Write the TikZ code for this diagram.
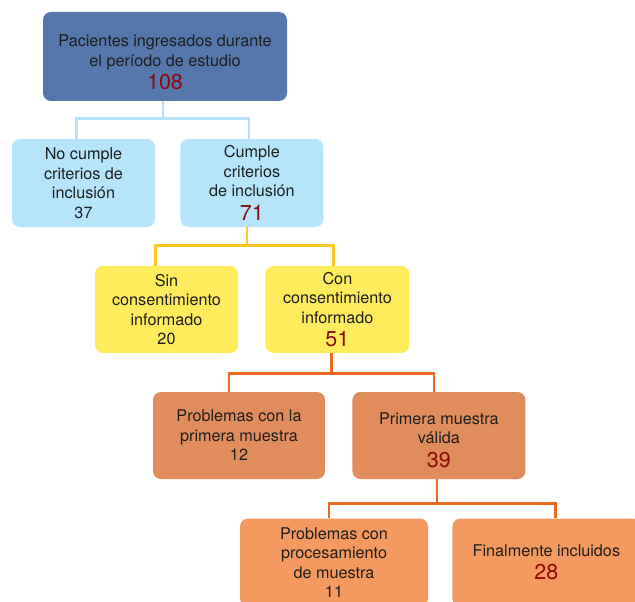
\documentclass[tikz,border=0pt]{standalone}
\usepackage{fontspec}
\setmainfont{TeX Gyre Heros}
\usetikzlibrary{positioning}

\definecolor{azulOsc}{HTML}{5677AC}
\definecolor{celeste}{HTML}{B6E5FA}
\definecolor{celesteLin}{HTML}{B3E2F6}
\definecolor{amarillo}{HTML}{FEEC5C}
\definecolor{amarilloLin}{HTML}{FFC826}
\definecolor{naranjaOsc}{HTML}{E08C5C}
\definecolor{naranjaCla}{HTML}{F49A60}
\definecolor{naranjaLin}{HTML}{EB6A22}
\definecolor{rojoNum}{HTML}{8C0A0A}
\definecolor{texto}{HTML}{1E1E1E}

\newcommand{\numero}[1]{{\fontsize{21.5}{27}\selectfont\color{rojoNum}#1}}

\begin{document}
\begin{tikzpicture}[x=1pt, y=-1pt]
  % definicion de estilos
  \tikzset{
    caja/.style={
           rectangle,
           rounded corners=8pt,
           text=texto,
           align=center,
           inner sep=2pt,
           font=\fontsize{16.2}{19.5}\selectfont},
    % colores de cada nivel
    cajaAzul/.style={caja, fill=azulOsc},
    cajaCeleste/.style={caja, fill=celeste, minimum width=143pt, minimum height=88pt},
    cajaAmarilla/.style={caja, fill=amarillo, minimum width=143pt, minimum height=87pt},
    cajaNaranja/.style={caja, fill=naranjaOsc, minimum height=87pt},
    cajaClara/.style={caja, fill=naranjaCla, minimum width=188pt, minimum height=88pt},
    % conectores
    linea/.style={line width=2.8pt}
  }
  \path[use as bounding box, clip] (0,0) rectangle (635,602);

  % Gráfico
  \node[cajaAzul, minimum width=244pt, minimum height=89pt] (pacientes) at (165,56.5)
       {\rule{0pt}{24pt}Pacientes ingresados durante\\el período de estudio\\[4pt]\numero{108}};
  \node[cajaCeleste] (nocumple) at (83.5,183) {No cumple\\criterios de\\inclusión\\37};
  \node[cajaCeleste, right=25pt of nocumple] (cumple) {Cumple\\criterios\\de inclusión\\[4pt]\numero{71}};
  \node[cajaAmarilla] (sin) at (166.5,309.5) {Sin\\consentimiento\\informado\\20};
  \node[cajaAmarilla, minimum width=144pt, right=27pt of sin] (con)
       {Con\\consentimiento\\informado\\[4pt]\numero{51}};
  \node[cajaNaranja, minimum width=172pt] (problemas) at (239,435.5)
       {Problemas con la\\primera muestra\\12};
  \node[cajaNaranja, minimum width=173pt, right=27pt of problemas] (primera)
       {\rule{0pt}{21pt}Primera muestra\\válida\\[4pt]\numero{39}};
  \node[cajaClara] (procesamiento) at (334,562.5)
       {Problemas con\\procesamiento\\de muestra\\11};
  \node[cajaClara, right=24pt of procesamiento] (finales)
       {Finalmente incluidos\\[4pt]\numero{28}};

  \draw[linea, celesteLin] ([xshift=-2pt]pacientes.south) -- ++(0,17) -| ([xshift=-7pt]nocumple.north);
  \draw[linea, celesteLin] ([xshift=-2pt]pacientes.south) -- ++(0,17) -| ([xshift=-3pt]cumple.north);
  \draw[linea, amarilloLin] ([xshift=-5pt]cumple.south) -- ++(0,18) -| ([xshift=-11pt]sin.north);
  \draw[linea, amarilloLin] ([xshift=-5pt]cumple.south) -- ++(0,18) -| ([xshift=-4pt]con.north);
  \draw[linea, naranjaLin] ([xshift=-6pt]con.south) -- ++(0,20) -| ([xshift=-10pt]problemas.north);
  \draw[linea, naranjaLin] ([xshift=-6pt]con.south) -- ++(0,20) -| ([xshift=-5pt]primera.north);
  \draw[linea, naranjaLin] ([xshift=-2pt]primera.south) -- ++(0,24) -| ([xshift=-5pt]procesamiento.north);
  \draw[linea, naranjaLin] ([xshift=-2pt]primera.south) -- ++(0,24) -| ([xshift=9pt]finales.north);
\end{tikzpicture}
\end{document}
